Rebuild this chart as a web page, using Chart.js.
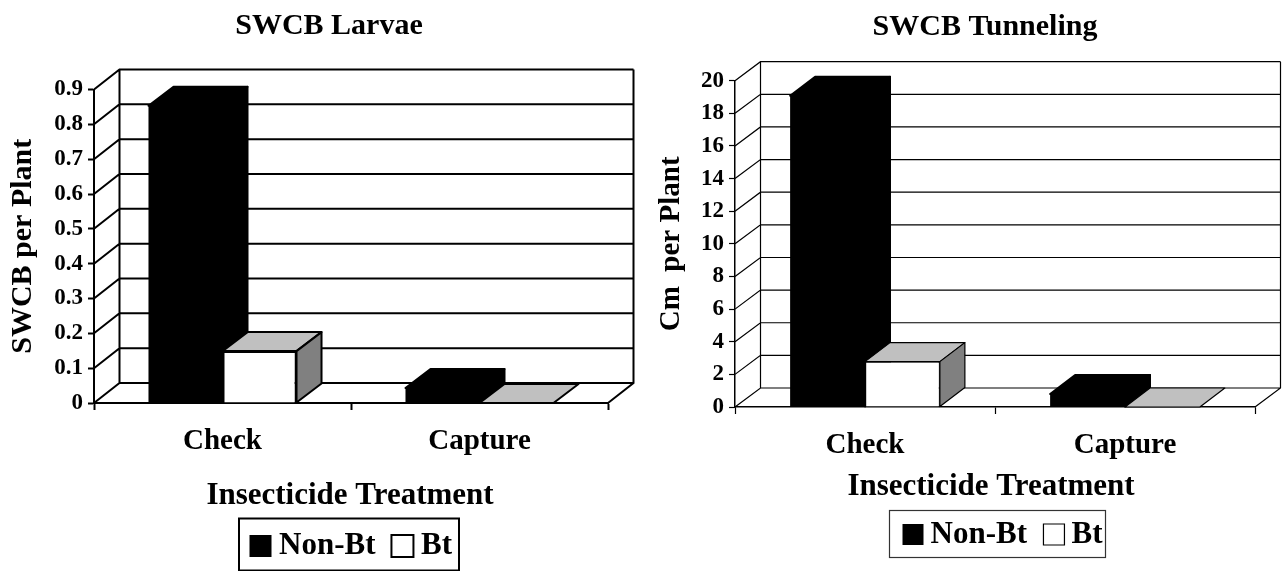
<!DOCTYPE html>
<html><head><meta charset="utf-8">
<style>html,body{margin:0;padding:0;background:#fff;overflow:hidden}canvas{position:absolute;top:0}</style>
<script src="https://cdn.jsdelivr.net/npm/chart.js@4"></script>
</head><body>
<canvas id="c1" width="645" height="571" style="left:0"></canvas>
<canvas id="c2" width="640" height="571" style="left:645px"></canvas>
<script>
const categories = ['Check', 'Capture'];
const seriesNames = ['Non-Bt', 'Bt'];
const larvaeNonBt = [0.853, 0.043];
const larvaeBt = [0.149, 0];
const tunnelNonBt = [19.08, 0.8];
const tunnelBt = [2.78, 0];
const larvaeTicks = ['0','0.1','0.2','0.3','0.4','0.5','0.6','0.7','0.8','0.9'];
const tunnelTicks = ['0','2','4','6','8','10','12','14','16','18','20'];

const FONT = '"Liberation Serif","Times New Roman",serif';

const depthPlugin = {
  id: 'depth3d',
  beforeLayout(chart) {
    const l = chart.legend;
    if (!l._wrapped) {
      const f = l.fit.bind(l);
      l.fit = function () { f(); l.height = 0; };
      l._wrapped = true;
    }
  },
  afterLayout(chart, args, o) {
    const t = chart.titleBlock, l = chart.legend;
    t.left = o.titleX - 250; t.right = o.titleX + 250;
    const b = o.legendBox;
    l.left = b.x + o.legendInsetX; l.top = b.y + o.legendInsetY; l.right = b.x + b.w + 30; l.bottom = b.y + b.h;
    l.width = l.right - l.left; l.height = l.bottom - l.top;
    const xs = chart.scales.x;
    if (!xs._wrapped) {
      const orig = xs.drawTitle.bind(xs);
      xs.drawTitle = function (c) {
        const ctx = chart.ctx; ctx.save(); ctx.translate(o.xTitleShift, 0); orig(c); ctx.restore();
      };
      xs._wrapped = true;
    }
  },
  beforeDatasetsDraw(chart, args, o) {
    const { ctx, scales: { y }, chartArea: a } = chart;
    ctx.save();
    ctx.strokeStyle = '#000';
    ctx.lineWidth = o.wallWidth;
    ctx.beginPath();
    y.ticks.forEach(t => {
      const py = y.getPixelForValue(t.value);
      ctx.moveTo(a.left, py);
      ctx.lineTo(a.left + o.dx, py - o.dy);
      ctx.lineTo(a.right + o.dx, py - o.dy);
    });
    ctx.moveTo(a.left + o.dx, a.top - o.dy);
    ctx.lineTo(a.left + o.dx, a.bottom - o.dy);
    ctx.moveTo(a.right + o.dx, a.top - o.dy);
    ctx.lineTo(a.right + o.dx, a.bottom - o.dy);
    ctx.lineTo(a.right, a.bottom);
    ctx.stroke();
    // depth faces of every bar, in series order, all beneath the front faces
    chart.data.datasets.forEach((ds, i) => {
      ctx.lineWidth = ds.depthLine;
      ctx.strokeStyle = ds.borderColor;
      ctx.lineJoin = 'round';
      chart.getDatasetMeta(i).data.forEach(el => {
        const { x, y: top, base, width } = el.getProps(['x', 'y', 'base', 'width'], true);
        const l = x - width / 2, r = x + width / 2, dx = o.barDx, dy = o.barDy;
        const poly = (pts, fill) => {
          ctx.beginPath();
          pts.forEach((p, k) => k ? ctx.lineTo(p[0], p[1]) : ctx.moveTo(p[0], p[1]));
          ctx.closePath(); ctx.fillStyle = fill; ctx.fill();
          ctx.stroke();
        };
        poly([[l, top], [l + dx, top - dy], [r + dx, top - dy], [r, top]], ds.topColor);
        if (base > top) poly([[r, top], [r + dx, top - dy], [r + dx, base - dy], [r, base]], ds.sideColor);
      });
    });
    ctx.restore();
  },
  afterDraw(chart, args, o) {
    const { ctx } = chart, b = o.legendBox;
    ctx.save();
    ctx.strokeStyle = o.legendBorder; ctx.lineWidth = o.legendLine;
    ctx.strokeRect(b.x + .5, b.y + .5, b.w - 1, b.h - 1);
    ctx.restore();
  }
};

function makeChart(id, c) {
  const H = 571;
  const lh = 1.2;
  return new Chart(document.getElementById(id), {
    type: 'bar',
    plugins: [depthPlugin],
    data: {
      labels: categories,
      datasets: [
        { label: seriesNames[0], data: c.a, backgroundColor: '#000', borderColor: '#000', borderWidth: 0, depthLine: 2,
          topColor: '#000', sideColor: '#000' },
        { label: seriesNames[1], data: c.b, backgroundColor: '#fff', borderColor: '#000', borderWidth: c.barLine, depthLine: c.barLine,
          topColor: '#c0c0c0', sideColor: '#808080' }
      ]
    },
    options: {
      responsive: false, animation: false, devicePixelRatio: 1,
      layout: { padding: { left: 0, top: 0, right: c.canvasW - c.right, bottom: 0 } },
      datasets: { bar: { categoryPercentage: 0.576, barPercentage: 1 } },
      plugins: {
        tooltip: { enabled: false },
        title: {
          display: true, text: c.title, color: '#000',
          font: { family: FONT, weight: 'bold', size: c.titleSize, lineHeight: lh },
          padding: { top: c.titleY - c.titleSize * lh / 2, bottom: c.top - c.titleY - c.titleSize * lh / 2 }
        },
        legend: {
          position: 'bottom', align: 'start',
          labels: {
            color: '#000', usePointStyle: true, pointStyle: 'rect',
            boxWidth: c.legendW, boxHeight: c.legendSwatch, padding: c.legendPad,
            font: { family: FONT, weight: 'bold', size: c.legendSize }
          }
        },
        depth3d: {
          dx: c.dx, dy: c.dy, barDx: c.barDx, barDy: c.barDy, wallWidth: c.wall,
          titleX: c.titleX, legendBox: c.legendBox, legendBorder: c.legendBorder, legendLine: c.legendLine,
          legendInsetX: c.legendInsetX, legendInsetY: c.legendInsetY, xTitleShift: c.xTitleShift
        }
      },
      scales: {
        x: {
          type: 'category',
          afterFit(s) { s.height = H - c.bottom; },
          border: { display: true, color: '#000', width: c.axis },
          grid: { drawOnChartArea: false, drawTicks: true, tickLength: 7, tickColor: '#000', tickWidth: c.tick },
          ticks: { color: '#000', padding: c.xTickPad, maxRotation: 0, font: { family: FONT, weight: 'bold', size: c.catSize } },
          title: {
            display: true, text: 'Insecticide Treatment', color: '#000',
            font: { family: FONT, weight: 'bold', size: c.axisSize, lineHeight: lh },
            padding: { top: 0, bottom: H - c.xTitleY - c.axisSize * lh / 2 }
          }
        },
        y: {
          min: c.min, max: c.max,
          afterFit(s) { s.width = c.left; },
          border: { display: true, color: '#000', width: c.axis },
          grid: { drawOnChartArea: false, drawTicks: true, tickLength: 6, tickColor: '#000', tickWidth: c.tick },
          ticks: {
            stepSize: c.step, color: '#000', padding: 5, autoSkip: false,
            font: { family: FONT, weight: 'bold', size: c.tickSize },
            callback: (v, i) => c.ticks[i]
          },
          title: {
            display: true, text: c.yTitle, color: '#000',
            font: { family: FONT, weight: 'bold', size: c.yTitleSize, lineHeight: lh },
            padding: { top: c.yTitleX - c.yTitleSize * lh / 2, bottom: 0 }
          }
        }
      }
    }
  });
}

makeChart('c1', {
  a: larvaeNonBt, b: larvaeBt, ticks: larvaeTicks, min: 0, max: 0.9, step: 0.1,
  title: 'SWCB Larvae', yTitle: 'SWCB per Plant',
  canvasW: 645, left: 94, right: 608, top: 89.5, bottom: 403,
  dx: 25.5, dy: 20, barDx: 25, barDy: 19, wall: 2, axis: 2, tick: 2, barLine: 2,
  titleX: 329, titleY: 26, titleSize: 30, tickSize: 23, catSize: 29, axisSize: 31, yTitleSize: 30, yTitleX: 23,
  xTickPad: 14, xTitleY: 496, xTitleShift: -1,
  legendSize: 31, legendW: 6, legendSwatch: 22, legendPad: 24, legendInsetX: -5, legendInsetY: -11.5,
  legendBox: { x: 238.5, y: 518, w: 221, h: 53 }, legendBorder: '#000', legendLine: 2
});
makeChart('c2', {
  a: tunnelNonBt, b: tunnelBt, ticks: tunnelTicks, min: 0, max: 20, step: 2,
  title: 'SWCB Tunneling', yTitle: 'Cm  per Plant',
  canvasW: 640, left: 90, right: 610, top: 80.7, bottom: 407,
  dx: 25.5, dy: 19, barDx: 25, barDy: 19, wall: 1.2, axis: 1.5, tick: 1.2, barLine: 1.2,
  titleX: 340, titleY: 27, titleSize: 30, tickSize: 23, catSize: 29, axisSize: 31, yTitleSize: 29, yTitleX: 27,
  xTickPad: 14, xTitleY: 487, xTitleShift: -4,
  legendSize: 31, legendW: 4, legendSwatch: 21, legendPad: 25, legendInsetX: -3, legendInsetY: -16,
  legendBox: { x: 244, y: 510, w: 217, h: 48 }, legendBorder: '#333', legendLine: 1.2
});
</script>
</body></html>
